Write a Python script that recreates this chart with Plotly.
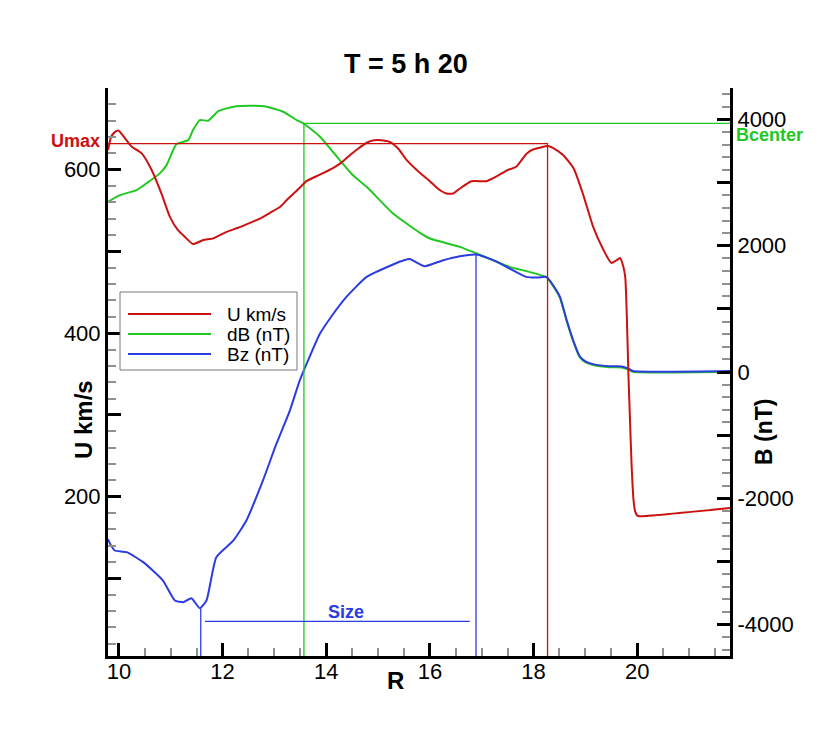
import plotly.graph_objects as go

# ---- data ----
# U (km/s) along R
r_u = [9.79, 9.85, 9.92, 9.99, 10.1, 10.25, 10.44, 10.63, 10.82, 10.98, 11.14, 11.27, 11.43,
       11.63, 11.82, 12.08, 12.3, 12.53, 12.75, 12.91, 13.1, 13.24, 13.49, 13.62, 13.88, 14.13,
       14.3, 14.46, 14.62, 14.78, 14.92, 15.07, 15.26, 15.4, 15.55, 15.81, 16.0, 16.15, 16.32,
       16.45, 16.58, 16.8, 17.09, 17.29, 17.48, 17.67, 17.87, 18.0, 18.12, 18.28, 18.42, 18.57,
       18.77, 18.96, 19.15, 19.34, 19.5, 19.62, 19.67, 19.73, 19.77, 19.8, 19.83, 19.86, 19.89,
       19.93, 19.96, 20.0, 20.05, 21.79]
u_kms = [624, 640, 646, 648, 640, 628, 620, 600, 571, 543, 526, 518, 509,
         514, 516, 524, 529, 535, 541, 547, 554, 563, 578, 586, 594, 602,
         609, 618, 626, 633, 636, 636, 633, 625, 612, 596, 586, 577, 571,
         571, 577, 586, 586, 592, 599, 604, 620, 625, 627, 629, 625, 618,
         602, 569, 530, 503, 486, 490, 492, 482, 468, 420, 350, 295, 241,
         195, 182, 177, 176, 186]

# dB (nT)
r_db = [9.79, 10.02, 10.34, 10.53, 10.79, 10.92, 11.11, 11.34, 11.43, 11.56, 11.72, 11.92,
        12.21, 12.53, 12.85, 13.17, 13.43, 13.56, 13.88, 14.26, 14.5, 14.78, 15.29, 15.81, 16.0,
        16.58, 16.9, 17.54, 18.25, 18.44, 18.51, 18.64, 18.77, 18.89, 19.0, 19.15, 19.47,
        19.7, 19.83, 19.92, 21.79]
db_nt = [2696, 2802, 2882, 2988, 3147, 3278, 3611, 3675, 3833, 3992, 3981, 4135,
         4203, 4219, 4203, 4124, 3992, 3940, 3728, 3358, 3130, 2934, 2512, 2205, 2115,
         1983, 1878, 1666, 1500, 1280, 1175, 805, 475, 235, 155, 110, 75,
         73, 40, 2, 2]

# Bz (nT)
r_bz = [9.79, 9.83, 9.92, 10.15, 10.47, 10.85, 11.08, 11.24, 11.4, 11.56, 11.69, 11.88,
        12.21, 12.46, 12.78, 13.04, 13.3, 13.49, 13.7, 13.88, 14.1, 14.39, 14.78, 15.29, 15.5,
        15.61, 15.9, 16.26, 16.58, 16.9, 17.22, 17.54, 17.86, 18.09, 18.25, 18.44, 18.51, 18.64,
        18.77, 18.89, 19.0, 19.15, 19.47, 19.7, 19.83, 19.92, 21.79]
bz_nt = [-2650, -2722, -2828, -2855, -3013, -3304, -3621, -3648, -3584, -3743, -3621, -2934,
         -2669, -2352, -1718, -1136, -607, -132, 280, 609, 880, 1190, 1507, 1703, 1770,
         1790, 1676, 1772, 1835, 1862, 1772, 1640, 1507, 1497, 1507, 1296, 1190, 820,
         490, 250, 170, 125, 90, 88, 54, 16, 16]

# markers
u_max, r_umax = 632, 18.27
b_center, r_bcenter = 3940, 13.57
r_size_start, r_size_end = 11.58, 16.89
bz_at_start, bz_at_end = -3743, 1862
size_level = -3950

r_range = [9.79, 21.79]
u_range = [5, 700]
b_range = [-4500, 4500]

RED, GREEN, BLUE = "#cc1111", "#22c822", "#2b3ce0"
FONT = "Liberation Sans"

# the page puts the figure 8px in from the window corner (body margin),
# so size it to fit the window without scrolling
OFF = 8
W, H = 830 - 2 * OFF, 738 - 2 * OFF
# plot area in window pixels: x 108..730, y 88..656
L, R, T, B = 108, 730, 88, 656


def px(x):
    return (x - L) / (R - L)


def py(y):
    return (B - y) / (B - T)


fig = go.Figure()
spl = dict(shape="spline", smoothing=0.5)

# B traces on y (right), U on y2 (left, overlaying so it is drawn on top)
fig.add_trace(go.Scatter(x=r_db, y=db_nt, mode="lines", line=dict(color=GREEN, width=2, **spl),
                         yaxis="y", showlegend=False))
fig.add_trace(go.Scatter(x=r_bz, y=bz_nt, mode="lines", line=dict(color=BLUE, width=2, **spl),
                         yaxis="y", showlegend=False))

# marker lines
thin = 1.3
fig.add_trace(go.Scatter(x=[r_bcenter, r_bcenter, r_range[1]], y=[b_range[0], b_center, b_center],
                         mode="lines", line=dict(color=GREEN, width=thin), yaxis="y", showlegend=False))
fig.add_trace(go.Scatter(x=[r_size_start, r_size_start], y=[b_range[0], bz_at_start],
                         mode="lines", line=dict(color=BLUE, width=thin), yaxis="y", showlegend=False))
fig.add_trace(go.Scatter(x=[r_size_end, r_size_end], y=[b_range[0], bz_at_end],
                         mode="lines", line=dict(color=BLUE, width=thin), yaxis="y", showlegend=False))
fig.add_trace(go.Scatter(x=[r_size_start + 0.08, r_size_end - 0.12], y=[size_level, size_level],
                         mode="lines", line=dict(color=BLUE, width=thin), yaxis="y", showlegend=False))
fig.add_trace(go.Scatter(x=[r_range[0], r_umax, r_umax], y=[u_max, u_max, u_range[0]],
                         mode="lines", line=dict(color=RED, width=thin), yaxis="y2", showlegend=False))

fig.add_trace(go.Scatter(x=r_u, y=u_kms, mode="lines", line=dict(color=RED, width=2, **spl),
                         yaxis="y2", showlegend=False))

tick_font = dict(family=FONT, size=22, color="black")
major = dict(ticks="inside", ticklen=13, tickwidth=2.5, tickcolor="black",
             showline=True, linewidth=3, linecolor="black",
             showgrid=False, zeroline=False, tickfont=tick_font)


def minor(step):
    return dict(tickmode="linear", tick0=0, dtick=step, ticks="inside",
                ticklen=8, tickwidth=1.5, tickcolor="#909090")


b_ticks = list(range(-4000, 4001, 1000))
u_ticks = list(range(100, 701, 100))

fig.update_layout(
    width=W, height=H,
    margin=dict(l=L - OFF, r=W + OFF - R, t=T - OFF, b=H + OFF - B),
    paper_bgcolor="white", plot_bgcolor="white",
    xaxis=dict(range=r_range, tickmode="array", tickvals=list(range(10, 21, 2)),
               minor=minor(0.5), ticklabelstandoff=-6, **major),
    yaxis=dict(range=b_range, side="right", tickmode="array", tickvals=b_ticks,
               ticktext=[str(v) if v % 2000 == 0 else "" for v in b_ticks],
               minor=minor(200), **major),
    yaxis2=dict(range=u_range, side="left", overlaying="y", tickmode="array", tickvals=u_ticks,
                ticktext=[str(v) if v % 200 == 0 else "" for v in u_ticks],
                minor=minor(20), **major),
)

bold = dict(family=FONT, weight="bold")
texts = [
    ("T = 5 h 20", 406, 64, 27, "black", 0),
    ("R", 395, 680, 24, "black", 0),
    ("U km/s", 83, 420, 24, "black", -90),
    ("B (nT)", 764, 432, 23, "black", -90),
    ("Umax", 75, 141, 18, RED, 0),
    ("Bcenter", 769, 135, 18, GREEN, 0),
    ("Size", 346, 612, 18, BLUE, 0),
]
for txt, x, y, size, color, ang in texts:
    fig.add_annotation(text=txt, x=px(x), y=py(y), xref="paper", yref="paper",
                       xanchor="center", yanchor="middle", showarrow=False, textangle=ang,
                       font=dict(size=size, color=color, **bold))

# legend drawn by hand (long line samples as in the reference)
fig.add_shape(type="rect", xref="paper", yref="paper", x0=px(120), x1=px(297),
              y0=py(370), y1=py(292), line=dict(color="#777777", width=1), fillcolor="white",
              layer="above")
legend_items = [("U km/s", RED, 314), ("dB (nT)", GREEN, 334), ("Bz (nT)", BLUE, 354)]
for name, color, y in legend_items:
    fig.add_shape(type="line", xref="paper", yref="paper", x0=px(128), x1=px(211),
                  y0=py(y), y1=py(y), line=dict(color=color, width=2), layer="above")
    fig.add_annotation(text=name, x=px(225), y=py(y), xref="paper", yref="paper",
                       xanchor="left", yanchor="middle", showarrow=False,
                       font=dict(family=FONT, size=19, color="black"))

fig.write_html("out.html")
